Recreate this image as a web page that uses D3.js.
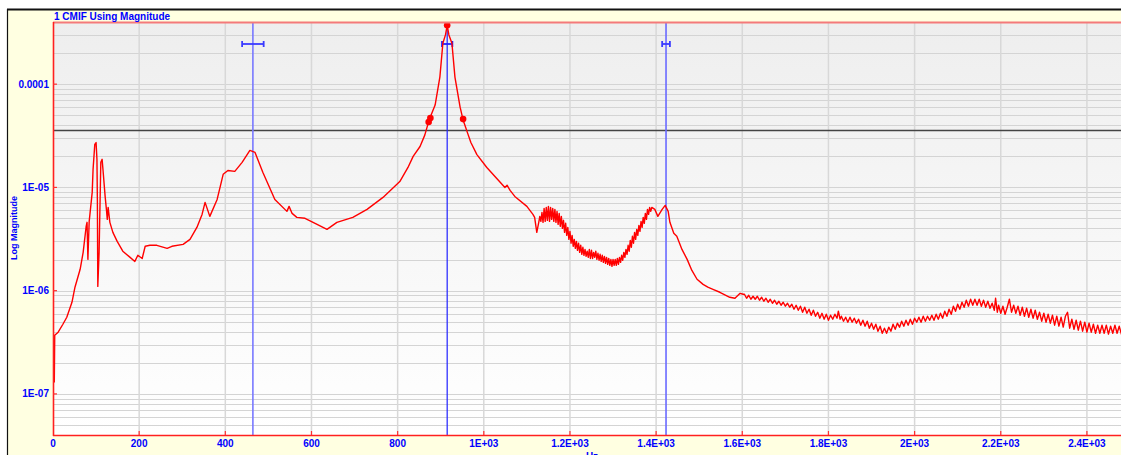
<!DOCTYPE html>
<html>
<head>
<meta charset="utf-8">
<script src="https://cdn.jsdelivr.net/npm/d3@7"></script>
<style>
body { margin: 0; background: #fff; overflow: hidden; }
text { font-family: "Liberation Sans", Arial, sans-serif; font-weight: bold; fill: #0000ff; }
</style>
</head>
<body>
<svg id="chart" width="1121" height="455"></svg>
<script>
// [Hz, magnitude]
var lowBand = [[3,1.29e-7],[4,3.7e-7],[12,3.96e-7],[23,4.73e-7],[32,5.53e-7],[44,7.72e-7],[51,1.08e-6],[63,1.61e-6],
  [70,2.35e-6],[77,4.2e-6],[79,4.59e-6],[81,2.01e-6],[84,4.69e-6],[91,8.95e-6],[93,1.49e-5],[97,2.61e-5],
  [100,2.72e-5],[102,1.87e-5],[103,7.65e-6],[104,1.1e-6],[107,2.35e-6],[111,1.75e-5],[114,1.87e-5],[116,1.49e-5],
  [121,8.18e-6],[124,6.13e-6],[126,4.9e-6],[128,6.41e-6],[132,4.59e-6],[139,3.67e-6],[149,3.0e-6],[162,2.41e-6],
  [179,2.1e-6],[190,1.92e-6],[197,2.2e-6],[207,2.05e-6],[214,2.69e-6],[225,2.75e-6],[241,2.75e-6],[265,2.57e-6],
  [276,2.69e-6],[302,2.81e-6],[318,3.14e-6],[334,4.1e-6],[346,5.48e-6],[353,7.16e-6],[364,5.24e-6],[381,7.65e-6],
  [395,1.34e-5],[406,1.46e-5],[422,1.43e-5],[439,1.75e-5],[457,2.28e-5],[469,2.18e-5],[487,1.4e-5],[515,7.65e-6],
  [543,5.86e-6],[548,6.55e-6],[555,5.6e-6],[566,5.13e-6],[585,5.02e-6],[613,4.39e-6],[636,3.92e-6],[659,4.59e-6],
  [696,5.13e-6],[729,6.13e-6],[766,8.0e-6],[805,1.14e-5]];

var peakBand = [[824,1.56e-5],[836,2.0e-5],[852,2.49e-5],[863,3.21e-5],[873,4.49e-5],[887,6.27e-5],[898,1.17e-4],
  [905,2.49e-4],[911,3.0e-4],[915,3.72e-4],[919,3.0e-4],[926,2.49e-4],[933,1.17e-4],[945,5.99e-5],[952,4.49e-5],
  [963,3.3e-5],[970,2.72e-5],[984,2.08e-5],[1007,1.56e-5],[1038,1.12e-5],[1049,1.0e-5],[1054,1.05e-5],
  [1061,9.35e-6],[1072,8.18e-6],[1100,6.55e-6],[1114,5.48e-6],[1118,5.13e-6],[1123,3.67e-6],[1128,4.69e-6]];

var noiseBand1 = [[1130,5.24e-6],[1132.5,4.69e-6],[1135,5.73e-6],[1137.5,4.59e-6],[1140,6.27e-6],[1142.5,4.69e-6],
  [1145,6.41e-6],[1147.5,4.8e-6],[1150,6.55e-6],[1152.5,4.69e-6],[1155,6.41e-6],[1157.5,4.9e-6],[1160,6.27e-6],
  [1162.5,4.69e-6],[1165,6.13e-6],[1167.5,4.59e-6],[1170,5.86e-6],[1172.5,4.39e-6],[1175,5.6e-6],[1177.5,4.2e-6],
  [1180,5.24e-6],[1182.5,4.01e-6],[1185,4.8e-6],[1187.5,3.67e-6],[1190,4.49e-6],[1192.5,3.43e-6],[1195,4.1e-6],
  [1197.5,3.14e-6],[1200,3.75e-6],[1202.5,2.88e-6],[1205,3.43e-6],[1207.5,2.69e-6],[1210,3.14e-6],[1212.5,2.57e-6],
  [1215,3.0e-6],[1217.5,2.46e-6],[1220,2.88e-6],[1222.5,2.35e-6],[1225,2.75e-6],[1227.5,2.25e-6],[1230,2.63e-6],
  [1232.5,2.2e-6],[1235,2.51e-6],[1237.5,2.15e-6],[1240,2.41e-6],[1242.5,2.1e-6],[1245,2.51e-6],[1247.5,2.05e-6],
  [1250,2.46e-6],[1252.5,2.05e-6],[1255,2.35e-6],[1257.5,2.1e-6],[1260,2.41e-6],[1262.5,2.01e-6],[1265,2.3e-6],
  [1267.5,1.97e-6],[1270,2.25e-6],[1272.5,1.92e-6],[1275,2.2e-6],[1277.5,1.88e-6],[1280,2.15e-6],[1282.5,1.84e-6],
  [1285,2.1e-6],[1287.5,1.8e-6],[1290,2.05e-6],[1292.5,1.76e-6],[1295,2.01e-6],[1297.5,1.72e-6],[1300,2.01e-6],
  [1302.5,1.76e-6],[1305,2.01e-6],[1307.5,1.76e-6],[1310,2.05e-6],[1312.5,1.8e-6],[1315,2.1e-6],[1317.5,1.88e-6],
  [1320,2.2e-6],[1322.5,1.97e-6],[1325,2.35e-6],[1327.5,2.1e-6],[1330,2.51e-6],[1332.5,2.25e-6],[1335,2.75e-6],
  [1337.5,2.41e-6],[1340,3.07e-6],[1342.5,2.63e-6],[1345,3.36e-6],[1347.5,2.88e-6],[1350,3.67e-6],[1352.5,3.14e-6],
  [1355,3.92e-6],[1357.5,3.43e-6],[1360,4.29e-6],[1362.5,3.75e-6],[1365,4.69e-6],[1367.5,4.1e-6],[1370,5.13e-6],
  [1372.5,4.49e-6],[1375,5.6e-6],[1377.5,4.9e-6],[1380,6.13e-6],[1382.5,5.48e-6],[1385,6.41e-6],[1387.5,5.86e-6],
  [1390,6.41e-6]];

var decayBand = [[1397,6.13e-6],[1404,5.24e-6],[1414,6.13e-6],[1421,6.7e-6],[1428,5.86e-6],[1432,4.59e-6],
  [1441,3.59e-6],[1448,3.36e-6],[1460,2.51e-6],[1472,2.01e-6],[1483,1.57e-6],[1495,1.29e-6],[1509,1.15e-6],
  [1520,1.08e-6],[1532,1.03e-6],[1548,9.65e-7],[1571,8.63e-7],[1583,8.44e-7],[1595,9.43e-7],[1602,9.23e-7]];

var noiseBand2 = [[1605,9.23e-7],[1610,8.45e-7],[1615,9.03e-7],[1620,8.26e-7],[1625,8.83e-7],[1630,8.26e-7],
  [1635,8.83e-7],[1640,8.08e-7],[1645,8.63e-7],[1650,7.9e-7],[1655,8.45e-7],[1660,7.72e-7],[1665,8.26e-7],
  [1670,7.55e-7],[1675,8.08e-7],[1680,7.39e-7],[1685,7.9e-7],[1690,7.22e-7],[1695,7.72e-7],[1700,7.07e-7],
  [1705,7.55e-7],[1710,6.91e-7],[1715,7.39e-7],[1720,6.61e-7],[1725,7.22e-7],[1730,6.46e-7],[1735,7.07e-7],
  [1740,6.18e-7],[1745,6.91e-7],[1750,6.04e-7],[1755,6.61e-7],[1760,5.78e-7],[1765,6.46e-7],[1770,5.65e-7],
  [1775,6.18e-7],[1780,5.41e-7],[1785,6.04e-7],[1790,5.29e-7],[1795,5.91e-7],[1800,5.17e-7],[1805,5.78e-7],
  [1810,5.29e-7],[1815,5.91e-7],[1820,5.41e-7],[1823,6.32e-7],[1827,5.29e-7],[1830,5.65e-7],[1835,5.06e-7],
  [1840,5.53e-7],[1845,4.95e-7],[1850,5.53e-7],[1855,4.95e-7],[1860,5.41e-7],[1865,4.84e-7],[1870,5.29e-7],
  [1875,4.63e-7],[1880,5.17e-7],[1885,4.53e-7],[1890,5.06e-7],[1895,4.33e-7],[1900,4.84e-7],[1905,4.23e-7],
  [1910,4.73e-7],[1915,4.05e-7],[1920,4.53e-7],[1925,3.87e-7],[1930,4.33e-7],[1935,3.87e-7],[1940,4.43e-7],
  [1945,4.05e-7],[1950,4.73e-7],[1955,4.23e-7],[1960,4.84e-7],[1965,4.43e-7],[1970,5.06e-7],[1975,4.53e-7],
  [1980,5.17e-7],[1985,4.63e-7],[1990,5.29e-7],[1995,4.73e-7],[2000,5.41e-7],[2005,4.95e-7],[2010,5.53e-7],
  [2015,4.95e-7],[2020,5.65e-7],[2025,5.06e-7],[2030,5.65e-7],[2035,5.17e-7],[2040,5.78e-7],[2045,5.17e-7],
  [2050,5.91e-7],[2055,5.29e-7],[2060,6.04e-7],[2065,5.41e-7],[2070,6.32e-7],[2075,5.65e-7],[2080,6.61e-7],
  [2085,5.91e-7],[2090,7.07e-7],[2095,6.32e-7],[2100,7.39e-7],[2105,6.61e-7],[2110,7.72e-7],[2115,6.91e-7],
  [2120,8.08e-7],[2125,7.07e-7],[2130,8.26e-7],[2135,7.22e-7],[2140,8.26e-7],[2145,7.22e-7],[2150,8.26e-7],
  [2155,7.07e-7],[2160,8.08e-7],[2165,6.91e-7],[2170,7.9e-7],[2175,6.76e-7],[2180,7.55e-7],[2185,6.46e-7],
  [2188,8.45e-7],[2192,6.18e-7],[2195,7.22e-7],[2200,6.04e-7],[2205,7.07e-7],[2210,5.91e-7],[2215,6.91e-7],
  [2220,8.26e-7],[2225,6.18e-7],[2230,7.22e-7],[2235,6.04e-7],[2240,7.07e-7],[2245,5.78e-7],[2250,6.91e-7],
  [2255,5.65e-7],[2260,6.76e-7],[2265,5.53e-7],[2270,6.61e-7],[2275,5.41e-7],[2280,6.46e-7],[2285,5.29e-7],
  [2290,6.18e-7],[2295,5.06e-7],[2300,6.04e-7],[2305,4.95e-7],[2310,5.91e-7],[2315,4.84e-7],[2320,5.78e-7],
  [2325,4.63e-7],[2330,5.65e-7],[2335,4.53e-7],[2340,5.53e-7],[2345,4.43e-7],[2350,5.65e-7],[2355,6.18e-7],
  [2360,4.33e-7],[2365,5.29e-7],[2370,4.23e-7],[2375,5.17e-7],[2380,4.14e-7],[2385,5.06e-7],[2390,4.05e-7],
  [2395,4.95e-7],[2400,3.96e-7],[2405,4.84e-7],[2410,3.96e-7],[2415,4.73e-7],[2420,3.87e-7],[2425,4.63e-7],
  [2430,3.87e-7],[2435,4.63e-7],[2440,3.87e-7],[2445,4.63e-7],[2450,3.79e-7],[2455,4.53e-7],[2460,3.87e-7],
  [2465,4.63e-7],[2470,3.87e-7],[2475,4.53e-7],[2480,3.79e-7],[2485,4.53e-7],[2490,3.87e-7],[2495,4.43e-7],
  [2500,3.79e-7]];

var xTicks = [0,200,400,600,800,1000,1200,1400,1600,1800,2000,2200,2400];
var xTickLabels = ["0","200","400","600","800","1E+03","1.2E+03","1.4E+03","1.6E+03","1.8E+03","2E+03","2.2E+03","2.4E+03"];
var yTicks = [1e-7,1e-6,1e-5,1e-4];
var yTickLabels = ["1E-07","1E-06","1E-05","0.0001"];

var cursorHz = [464, 915, 1423];
var cursorSpreadHz = [25, 12, 9];
var cursorColors = ["#7878ff", "#2020ff", "#6a6aff"];
var thresholdMag = 3.56e-5;
var peakMarkers = [[915,3.72e-4],[872,4.3e-5],[876,4.7e-5],[952,4.59e-5]];

var curve = lowBand.concat(peakBand, noiseBand1, decayBand, noiseBand2);

var svg = d3.select("#chart");
var x = d3.scaleLinear().domain([0,2500]).range([53,1130]);
var y = d3.scaleLog().domain([4e-8,4e-4]).range([435,22]);

// frame
svg.append("rect").attr("x",0).attr("y",0).attr("width",1121).attr("height",455).attr("fill","#fff");
svg.append("rect").attr("x",8).attr("y",10).attr("width",1113).attr("height",445).attr("fill","#ffffe1");
svg.append("line").attr("x1",7.5).attr("x2",7.5).attr("y1",9).attr("y2",455).attr("stroke","#111").attr("stroke-width",1.2);
svg.append("line").attr("x1",7).attr("x2",1121).attr("y1",9.5).attr("y2",9.5).attr("stroke","#111").attr("stroke-width",2);

var grad = svg.append("defs").append("linearGradient").attr("id","bg").attr("x1",0).attr("x2",0).attr("y1",0).attr("y2",1);
grad.append("stop").attr("offset","0%").attr("stop-color","#eeeeee");
grad.append("stop").attr("offset","100%").attr("stop-color","#ffffff");
svg.select("defs").append("clipPath").attr("id","plotclip")
  .append("rect").attr("x",53).attr("y",22).attr("width",1077).attr("height",413);

svg.append("rect").attr("x",53).attr("y",22).attr("width",1077).attr("height",413).attr("fill","url(#bg)");

// grid
svg.append("g").selectAll("line")
  .data(y.ticks())
  .enter().append("line")
    .attr("x1",53).attr("x2",1130)
    .attr("y1",function(d){ return Math.round(y(d))+0.5; })
    .attr("y2",function(d){ return Math.round(y(d))+0.5; })
    .attr("stroke","#d4d4d4").attr("stroke-width",1.2);

svg.append("g").selectAll("line")
  .data(xTicks.slice(1))
  .enter().append("line")
    .attr("x1",function(d){ return x(d); }).attr("x2",function(d){ return x(d); })
    .attr("y1",22).attr("y2",435)
    .attr("stroke","#d8d8d8").attr("stroke-width",1.5);

var plot = svg.append("g").attr("clip-path","url(#plotclip)");

// threshold line
plot.append("line")
  .attr("x1",53).attr("x2",1130)
  .attr("y1",y(thresholdMag)).attr("y2",y(thresholdMag))
  .attr("stroke","#444").attr("stroke-width",1.5);

// cursors
plot.selectAll(".cursor")
  .data(cursorHz)
  .enter().append("line")
    .attr("class","cursor")
    .attr("x1",function(d){ return x(d); }).attr("x2",function(d){ return x(d); })
    .attr("y1",22).attr("y2",435)
    .attr("stroke",function(d,i){ return cursorColors[i]; })
    .attr("stroke-width",function(d,i){ return i==1 ? 1.2 : 1.6; });

var bars = plot.selectAll(".bar").data(cursorHz).enter().append("g").attr("class","bar")
  .attr("stroke",function(d,i){ return i==1 ? "#2020ff" : "#3a3aff"; })
  .attr("stroke-width",1.8);
bars.append("line")
  .attr("x1",function(d,i){ return x(d-cursorSpreadHz[i]); })
  .attr("x2",function(d,i){ return x(d+cursorSpreadHz[i]); })
  .attr("y1",44).attr("y2",44);
bars.append("line")
  .attr("x1",function(d,i){ return x(d-cursorSpreadHz[i]); })
  .attr("x2",function(d,i){ return x(d-cursorSpreadHz[i]); })
  .attr("y1",41).attr("y2",47);
bars.append("line")
  .attr("x1",function(d,i){ return x(d+cursorSpreadHz[i]); })
  .attr("x2",function(d,i){ return x(d+cursorSpreadHz[i]); })
  .attr("y1",41).attr("y2",47);

// axes lines (under the curve)
svg.append("line").attr("x1",53).attr("x2",1130).attr("y1",22.5).attr("y2",22.5).attr("stroke","#f47a7a").attr("stroke-width",2);
svg.append("line").attr("x1",53.5).attr("x2",53.5).attr("y1",22).attr("y2",436).attr("stroke","#ff2020").attr("stroke-width",1.6);
svg.append("line").attr("x1",53).attr("x2",1130).attr("y1",435.5).attr("y2",435.5).attr("stroke","#ff2020").attr("stroke-width",1.6);

// CMIF curve
var line = d3.line()
  .x(function(d){ return x(d[0]); })
  .y(function(d){ return y(d[1]); });

plot.append("path")
  .datum(curve)
  .attr("d",line)
  .attr("fill","none")
  .attr("stroke","#ff0000")
  .attr("stroke-width",1.4)
  .attr("stroke-linejoin","round");

plot.selectAll(".mk")
  .data(peakMarkers)
  .enter().append("circle")
    .attr("class","mk")
    .attr("cx",function(d){ return x(d[0]); })
    .attr("cy",function(d){ return y(d[1]); })
    .attr("r",3.3)
    .attr("fill","#ff0000");

svg.append("g").selectAll("line")
  .data(yTicks)
  .enter().append("line")
    .attr("x1",53).attr("x2",57)
    .attr("y1",function(d){ return y(d); }).attr("y2",function(d){ return y(d); })
    .attr("stroke","#ff3030").attr("stroke-width",1.2);

svg.append("g").selectAll("line")
  .data(xTicks.slice(1))
  .enter().append("line")
    .attr("x1",function(d){ return x(d); }).attr("x2",function(d){ return x(d); })
    .attr("y1",431).attr("y2",435)
    .attr("stroke","#ff3030").attr("stroke-width",1.2);

// labels
svg.append("g").selectAll("text")
  .data(yTicks)
  .enter().append("text")
    .attr("x",49)
    .attr("y",function(d){ return y(d)+3.5; })
    .attr("text-anchor","end")
    .style("font-size","10px")
    .text(function(d,i){ return yTickLabels[i]; });

svg.append("g").selectAll("text")
  .data(xTicks)
  .enter().append("text")
    .attr("x",function(d){ return x(d); })
    .attr("y",447)
    .attr("text-anchor","middle")
    .style("font-size","10px")
    .text(function(d,i){ return xTickLabels[i]; });

svg.append("text").attr("x",54).attr("y",19.5).style("font-size","10px").text("1 CMIF Using Magnitude");
svg.append("text").attr("x",592).attr("y",460).attr("text-anchor","middle").style("font-size","10px").text("Hz");
svg.append("text")
  .attr("transform","translate(17,228) rotate(-90)")
  .attr("text-anchor","middle")
  .style("font-size","9px")
  .text("Log Magnitude");
</script>
</body>
</html>
